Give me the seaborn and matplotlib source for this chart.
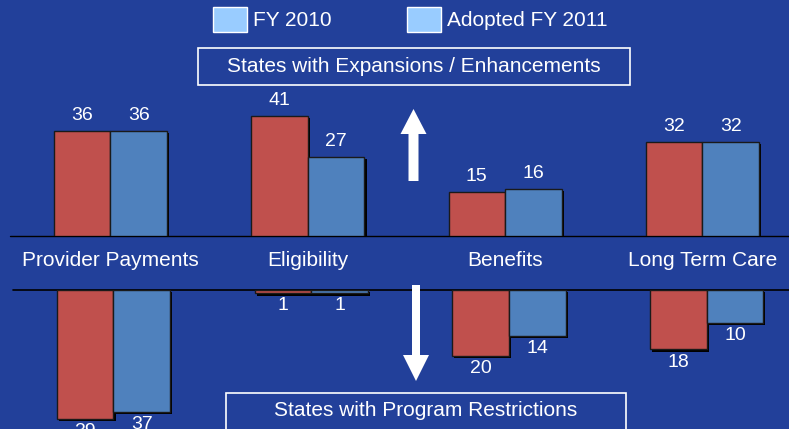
import matplotlib as mpl
mpl.use('Agg')
import matplotlib.pyplot as plt
import matplotlib.patheffects as pe
from matplotlib.patches import Rectangle, FancyArrow, Patch
import pandas as pd
import seaborn as sns

sns.set_style("white")
plt.rcParams['font.family'] = ['Liberation Sans', 'DejaVu Sans']

# data
categories = ['Provider Payments', 'Eligibility', 'Benefits', 'Long Term Care']
years = ['FY 2010', 'Adopted FY 2011']
expand_fy2010 = [36, 41, 15, 32]
expand_fy2011 = [36, 27, 16, 32]
restrict_fy2010 = [39, 1, 20, 18]
restrict_fy2011 = [37, 1, 14, 10]

BG = '#22409A'
RED = '#C0504D'
BLUE = '#4F81BD'
LEGEND_BOX = '#99CCFF'

W, H = 789, 429


def long_df(v2010, v2011, sign=1):
    rows = []
    for c, a, b in zip(categories, v2010, v2011):
        rows.append((c, years[0], sign * a))
        rows.append((c, years[1], sign * b))
    return pd.DataFrame(rows, columns=['category', 'year', 'value'])


def px(x, y):
    # image pixel (top-left origin) -> inches for dpi_scale_trans
    return x / 100.0, (H - y) / 100.0


fig = plt.figure(figsize=(W / 100, H / 100), dpi=100, facecolor=BG)
ax_up = fig.add_axes([0, (H - 236) / H, 1, 236 / H])
ax_dn = fig.add_axes([0, 0, 1, (H - 290) / H])

shadow = [pe.SimplePatchShadow(offset=(1.6, -1.6), shadow_rgbFace='black', alpha=1), pe.Normal()]

for ax, df, vals in [
    (ax_up, long_df(expand_fy2010, expand_fy2011), (expand_fy2010, expand_fy2011)),
    (ax_dn, long_df(restrict_fy2010, restrict_fy2011, -1), (restrict_fy2010, restrict_fy2011)),
]:
    ax.set_facecolor('none')
    sns.barplot(data=df, x='category', y='value', hue='year', order=categories,
                hue_order=years, palette=[RED, BLUE], width=0.573, gap=0,
                edgecolor='#1a1a1a', linewidth=1, saturation=1, legend=False, ax=ax)
    for p in ax.patches:
        p.set_path_effects(shadow)
    for cont, v in zip(ax.containers, vals):
        ax.bar_label(cont, labels=[str(x) for x in v], padding=5 if ax is ax_up else 3,
                     color='white', fontsize=14)
    ax.set_xlabel('')
    ax.set_ylabel('')
    ax.set_yticks([])
    for s in ax.spines.values():
        s.set_visible(False)

ax_up.set_xlim(-0.560, 3.439)
ax_up.set_ylim(0, 236 / 2.93)
ax_up.tick_params(axis='x', length=0, pad=11, labelsize=15, labelcolor='white')
ax_up.axhline(0, xmin=10 / W, color='black', lw=1, clip_on=False, zorder=0)

ax_dn.set_xlim(-0.574, 3.417)
ax_dn.set_ylim(-(H - 290) / 3.3, 0)
ax_dn.set_xticks([])
ax_dn.axhline(0, xmin=13 / W, color='black', lw=1.2, clip_on=False, zorder=0)

# legend
handles = [Patch(facecolor=LEGEND_BOX, edgecolor='white', lw=1) for _ in years]
fig.legend(handles, years, loc='upper left', bbox_to_anchor=(213 / W, 1 - 7 / H),
           borderpad=0, borderaxespad=0, frameon=False, ncol=2, fontsize=15,
           handlelength=1.63, handleheight=1.45, handletextpad=0.3,
           columnspacing=3.6, labelcolor='white')

# section boxes
tr = fig.dpi_scale_trans
x0, y0 = px(198, 85)
fig.add_artist(Rectangle((x0, y0), 4.32, 0.37, transform=tr, fill=False,
                         edgecolor='white', lw=1.2))
fig.text(*px(414, 67), 'States with Expansions / Enhancements', transform=tr,
         ha='center', va='center', color='white', fontsize=15)
x0, y0 = px(226, 440)
fig.add_artist(Rectangle((x0, y0), 4.00, 0.47, transform=tr, fill=False,
                         edgecolor='white', lw=1.2))
fig.text(*px(426, 411), 'States with Program Restrictions', transform=tr,
         ha='center', va='center', color='white', fontsize=15)

# arrows
ax0, ay0 = px(413.5, 181)
fig.add_artist(FancyArrow(ax0, ay0, 0, 0.72, width=0.10, head_width=0.26,
                          head_length=0.25, length_includes_head=True,
                          transform=tr, color='white', lw=0))
ax0, ay0 = px(416, 285)
fig.add_artist(FancyArrow(ax0, ay0, 0, -0.96, width=0.08, head_width=0.26,
                          head_length=0.26, length_includes_head=True,
                          transform=tr, color='white', lw=0))

fig.savefig('out.png', dpi=100, facecolor=BG)
